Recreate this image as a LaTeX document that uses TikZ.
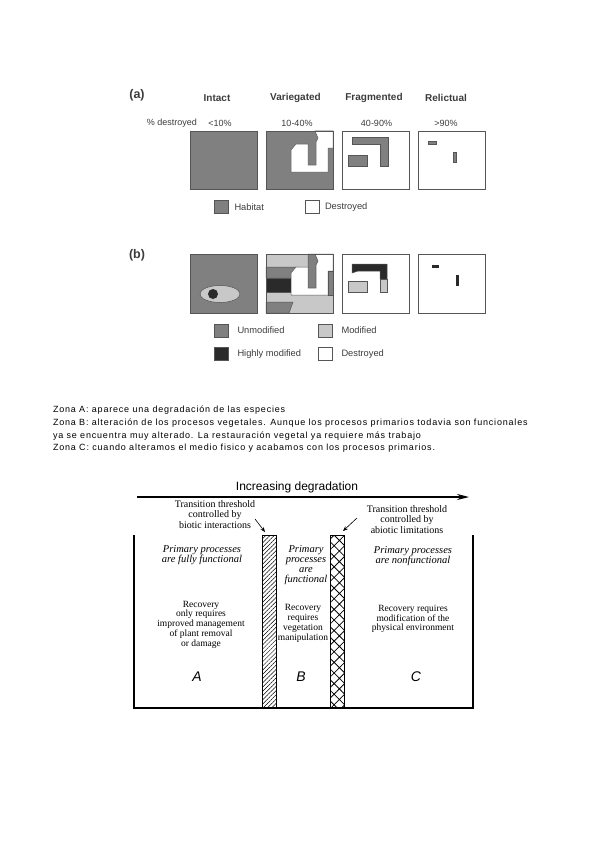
\documentclass[tikz,border=0pt]{standalone}
\usepackage{fontspec}
\setmainfont{Liberation Serif}
\setsansfont{Liberation Sans}
\newfontfamily\zonafont[LetterSpace=9]{Liberation Sans}
\usetikzlibrary{arrows.meta,positioning,patterns.meta}
\definecolor{habgray}{RGB}{128,128,128}
\definecolor{modgray}{RGB}{200,200,200}
\definecolor{darkmod}{RGB}{42,42,42}
\definecolor{edgegray}{RGB}{85,85,85}
\definecolor{txtgray}{RGB}{60,60,60}

\begin{document}
\begin{tikzpicture}[x=1pt,y=-1pt,node distance=6pt,
  every node/.style={inner sep=0pt,outer sep=0pt},
  frame/.style={draw=edgegray,line width=0.9pt},
  patch/.style={draw=edgegray,line width=0.5pt},
  tag/.style={font=\sffamily\bfseries\fontsize{12.5}{14}\selectfont,text=txtgray},
  hdr/.style={font=\sffamily\bfseries\fontsize{10}{12}\selectfont,text=txtgray},
  pct/.style={font=\sffamily\fontsize{9}{11}\selectfont,text=txtgray},
  lgd/.style={font=\sffamily\fontsize{9.3}{11}\selectfont,text=txtgray},
  swatch/.style={draw=edgegray,line width=0.6pt,minimum width=14pt,minimum height=13pt},
  zona/.style={font=\zonafont\fontsize{9}{12}\selectfont,anchor=base west},
  note/.style={font=\fontsize{10}{10.5}\selectfont,align=center},
  proc/.style={font=\itshape\fontsize{10.5}{10}\selectfont,align=center},
  recov/.style={font=\fontsize{9.5}{9.75}\selectfont,align=center},
  zone/.style={font=\sffamily\itshape\fontsize{14}{14}\selectfont},
  bar/.style={draw,line width=0.8pt,minimum width=14pt,minimum height=173pt},
  pointer/.style={-{Stealth[length=5pt,width=4pt]},line width=0.6pt},
  wall/.style={line width=1.6pt}]
\useasboundingbox (0,0) rectangle (599,848);

% ---- panel (a)
\node[tag] (taga) at (137,95) {(a)};
\foreach \x/\lab in {217/Intact,295.5/Variegated,374/Fragmented,446/Relictual}
  \node[hdr] (h\lab) at (\x,98) {\lab};
\node[pct] (pct0) at (172,123) {\% destroyed};
\foreach \x/\v [count=\i] in {220/{<10\%},297/{10-40\%},376.5/{40-90\%},446/{>90\%}}
  \node[pct] (pct\i) at (\x,123) {\v};
\fill[habgray] (190,131) rectangle (257,189);
\fill[habgray] (266,131) rectangle (333,189);
\filldraw[patch,fill=white] (315,131) -- (333,131) -- (333,148) -- (328,148) -- (328,172) -- (291,172)
  -- (291,150) -- (296,144) -- (308,144) -- (308,165) -- (316,165) -- (316,142) -- (318,138) -- cycle;
\filldraw[patch,fill=habgray] (352,137) -- (388,137) -- (388,166) -- (380,166) -- (380,144) -- (352,144) -- cycle;
\filldraw[patch,fill=habgray] (348,155) rectangle (367,166);
\filldraw[patch,fill=habgray] (428,141) rectangle (436,144);
\filldraw[patch,fill=habgray] (453,152) rectangle (456,162);
\foreach \x in {190,266,342,418}
  \draw[frame] (\x,131) rectangle ++(67,58);
\node[swatch,fill=habgray] (swHab) at (221.5,207) {};
\node[lgd,right=of swHab] (lgHab) {Habitat};
\node[swatch,fill=white] (swDes) at (312,207) {};
\node[lgd,right=of swDes] (lgDes) {Destroyed};

% ---- panel (b)
\node[tag] (tagb) at (137,255) {(b)};
\fill[habgray] (190,254) rectangle (257,313);
\filldraw[patch,fill=modgray] (220,294) ellipse [x radius=20,y radius=8.5];
\fill[darkmod] (213,294) circle [radius=5];
\fill[modgray] (266,254) rectangle (333,313);
\filldraw[patch,fill=habgray] (266,267) -- (297,267) -- (292,278) -- (266,278) -- cycle;
\filldraw[patch,fill=darkmod] (266,278) rectangle (291,292);
\filldraw[patch,fill=habgray] (266,302) -- (293,302) -- (289,313) -- (266,313) -- cycle;
\filldraw[patch,fill=habgray] (308,254) -- (315,254) -- (318,261) -- (316,265) -- (316,288) -- (308,288) -- cycle;
\filldraw[patch,fill=white] (315,254) -- (333,254) -- (333,271) -- (328,271) -- (328,295) -- (291,295)
  -- (291,273) -- (296,267) -- (308,267) -- (308,288) -- (316,288) -- (316,265) -- (318,261) -- cycle;
\filldraw[patch,fill=habgray] (328,271) rectangle (333,295);
\filldraw[patch,fill=darkmod] (352,264) -- (387,264) -- (387,279) -- (380,279) -- (380,271) -- (358,271) -- (352,273) -- cycle;
\filldraw[patch,fill=modgray] (380,279) rectangle (387,292);
\filldraw[patch,fill=modgray] (348,281) rectangle (367,292);
\fill[darkmod] (432,265) rectangle (439,268);
\fill[darkmod] (456,275) rectangle (459,286);
\foreach \x in {190,266,342,418}
  \draw[frame] (\x,254) rectangle ++(67,59);
\node[swatch,fill=habgray] (swUnm) at (221.5,330.5) {};
\node[lgd,right=9pt of swUnm] (lgUnm) {Unmodified};
\node[swatch,fill=modgray] (swMod) at (325.5,330.5) {};
\node[lgd,right=9pt of swMod] (lgMod) {Modified};
\node[swatch,fill=darkmod] (swHigh) at (221.5,354) {};
\node[lgd,right=9pt of swHigh] (lgHigh) {Highly modified};
\node[swatch,fill=white] (swDes2) at (325.5,354) {};
\node[lgd,right=9pt of swDes2] (lgDes2) {Destroyed};

% ---- text
\node[zona] (zonaA) at (53,412.5) {Zona A: aparece una degradación de las especies};
\node[zona] (zonaB) at (53,425.3) {Zona B: alteración de los procesos vegetales. Aunque los procesos primarios todavia son funcionales};
\node[zona] (zonaB2) at (53,438) {ya se encuentra muy alterado. La restauración vegetal ya requiere más trabajo};
\node[zona] (zonaC) at (53,450.7) {Zona C: cuando alteramos el medio fisico y acabamos con los procesos primarios.};

% ---- degradation diagram
\coordinate (degL) at (137,497);
\coordinate (degR) at (469,497);
\draw[-{Stealth[length=12pt,width=6pt]},line width=1.1pt] (degL) -- (degR);
\node[font=\sffamily\fontsize{12}{14}\selectfont] (deg) at (297,487) {Increasing degradation};
\draw[wall] (134,535) -- (134,708) -- (473,708) -- (473,535);
\node[bar,pattern={Lines[angle=45,distance=3pt,line width=0.5pt]}] (bio) at (269,621.5) {};
\node[bar,pattern={Hatch[angle=45,distance=7.5pt,line width=0.8pt]}] (abio) at (337,621.5) {};
\node[note] (thrA) at (215,514.5) {Transition threshold\\controlled by\\biotic interactions};
\node[note] (thrB) at (407,519.5) {Transition threshold\\controlled by\\abiotic limitations};
\coordinate (thrAtail) at (255,519);
\coordinate (thrBtail) at (357,518);
\draw[pointer] (thrAtail) -- ([shift={(-4,-3)}]bio.north);
\draw[pointer] (thrBtail) -- ([shift={(6,-4)}]abio.north);
\node[proc] (procA) at (202,555.5) {Primary processes\\are fully functional};
\node[proc] (procB) at (306,565) {Primary\\processes\\are\\functional};
\node[proc] (procC) at (413,556) {Primary processes\\are nonfunctional};
\node[recov] (recA) at (201,624.5) {Recovery\\only requires\\improved management\\of plant removal\\or damage};
\node[recov] (recB) at (303,623.5) {Recovery\\requires\\vegetation\\manipulation};
\node[recov] (recC) at (413,619) {Recovery requires\\modification of the\\physical environment};
\node[zone] (zoneA) at (197,677) {A};
\node[zone] (zoneB) at (301,677) {B};
\node[zone] (zoneC) at (416,677) {C};
\end{tikzpicture}
\end{document}
